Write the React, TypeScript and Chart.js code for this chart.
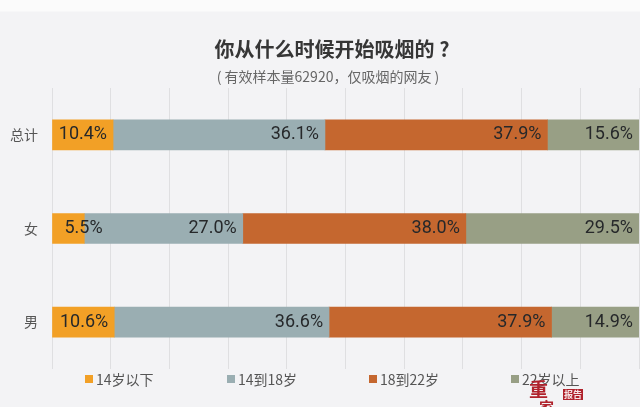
import React, { useEffect, useRef } from 'react';
import { Chart, registerables } from 'chart.js';

Chart.register(...registerables);

const categories = ['总计', '女', '男'];
const under14 = [10.4, 5.5, 10.6];
const from14to18 = [36.1, 27.0, 36.6];
const from18to22 = [37.9, 38.0, 37.9];
const over22 = [15.6, 29.5, 14.9];

const CJK = '"Noto Sans CJK SC", "Noto Sans", sans-serif';

// percent labels sit at the right end inside each bar
const barLabels = {
  id: 'barLabels',
  afterDatasetsDraw(chart: any) {
    const { ctx } = chart;
    ctx.save();
    ctx.font = '18px Roboto, sans-serif';
    ctx.fillStyle = '#26282a';
    ctx.textBaseline = 'middle';
    chart.data.datasets.forEach((ds: any, i: number) => {
      chart.getDatasetMeta(i).data.forEach((bar: any, j: number) => {
        const text = ds.data[j].toFixed(1) + '%';
        // a label too wide for its bar runs over into the next one
        if (ctx.measureText(text).width + 12 > bar.x - bar.base) {
          ctx.textAlign = 'left';
          ctx.fillText(text, bar.base + 12, bar.y);
        } else {
          ctx.textAlign = 'right';
          ctx.fillText(text, bar.x - 6, bar.y);
        }
      });
    });
    ctx.restore();
  },
};

// title block, legend and stamp do not line up with the canvas centre, so they are placed by hand
const furniture = {
  id: 'furniture',
  afterDraw(chart: any) {
    const { ctx } = chart;
    ctx.save();
    ctx.textBaseline = 'middle';

    ctx.textAlign = 'center';
    ctx.font = `bold 20px ${CJK}`;
    ctx.fillStyle = '#363636';
    ctx.fillText('你从什么时候开始吸烟的 ?', 332, 49);
    ctx.font = `14px ${CJK}`;
    ctx.fillStyle = '#666666';
    ctx.fillText('( 有效样本量62920，仅吸烟的网友 )', 328, 77);

    ctx.textAlign = 'left';
    chart.data.datasets.forEach((ds: any, i: number) => {
      const x = 85 + i * 142;
      ctx.fillStyle = ds.backgroundColor;
      ctx.fillRect(x, 375, 8, 8);
      ctx.font = `14px ${CJK}`;
      ctx.fillStyle = '#555555';
      ctx.fillText(ds.label, x + 11, 380);
    });

    ctx.fillStyle = '#b0222c';
    ctx.font = `bold 19px ${CJK}`;
    ctx.fillText('重', 529, 390);
    ctx.font = `bold 15px ${CJK}`;
    ctx.fillText('家', 539, 407);
    ctx.fillRect(563, 389, 20, 11);
    ctx.fillStyle = '#f6e6e6';
    ctx.font = `bold 9px ${CJK}`;
    ctx.fillText('报告', 564, 394.5);
    ctx.restore();
  },
};

const App = () => {
  const canvasRef = useRef<HTMLCanvasElement | null>(null);

  useEffect(() => {
    if (!canvasRef.current) return;
    const chart = new Chart(canvasRef.current, {
      type: 'bar',
      data: {
        labels: categories,
        datasets: [
          { label: '14岁以下', data: under14, backgroundColor: '#f2a026' },
          { label: '14到18岁', data: from14to18, backgroundColor: '#9aaeb2' },
          { label: '18到22岁', data: from18to22, backgroundColor: '#c5672f' },
          { label: '22岁以上', data: over22, backgroundColor: '#989f85' },
        ],
      },
      options: {
        indexAxis: 'y',
        responsive: false,
        animation: false,
        layout: { padding: { left: 0, right: 1, top: 88, bottom: 38 } },
        datasets: { bar: { barThickness: 30 } },
        scales: {
          x: {
            stacked: true,
            min: 0,
            max: 100,
            ticks: { display: false, stepSize: 10 },
            border: { display: false },
            grid: { color: '#dfdfe1', lineWidth: 1, drawTicks: false },
          },
          y: {
            stacked: true,
            afterFit: (axis: any) => {
              axis.width = 52;
            },
            ticks: { color: '#555555', font: { family: CJK, size: 14 }, padding: 6 },
            border: { display: false },
            grid: { display: false },
          },
        },
        plugins: {
          legend: { display: false },
          tooltip: { enabled: false },
        },
      },
      plugins: [barLabels, furniture],
    } as any);

    return () => {
      chart.destroy();
    };
  }, []);

  return (
    <div
      style={{
        position: 'fixed',
        left: 0,
        top: 0,
        width: 640,
        height: 407,
        background: 'linear-gradient(#fbfbfb 0, #fbfbfb 11px, #f3f3f5 12px)',
      }}
    >
      <canvas ref={canvasRef} width={640} height={407} style={{ display: 'block' }} />
    </div>
  );
};

export default App;
